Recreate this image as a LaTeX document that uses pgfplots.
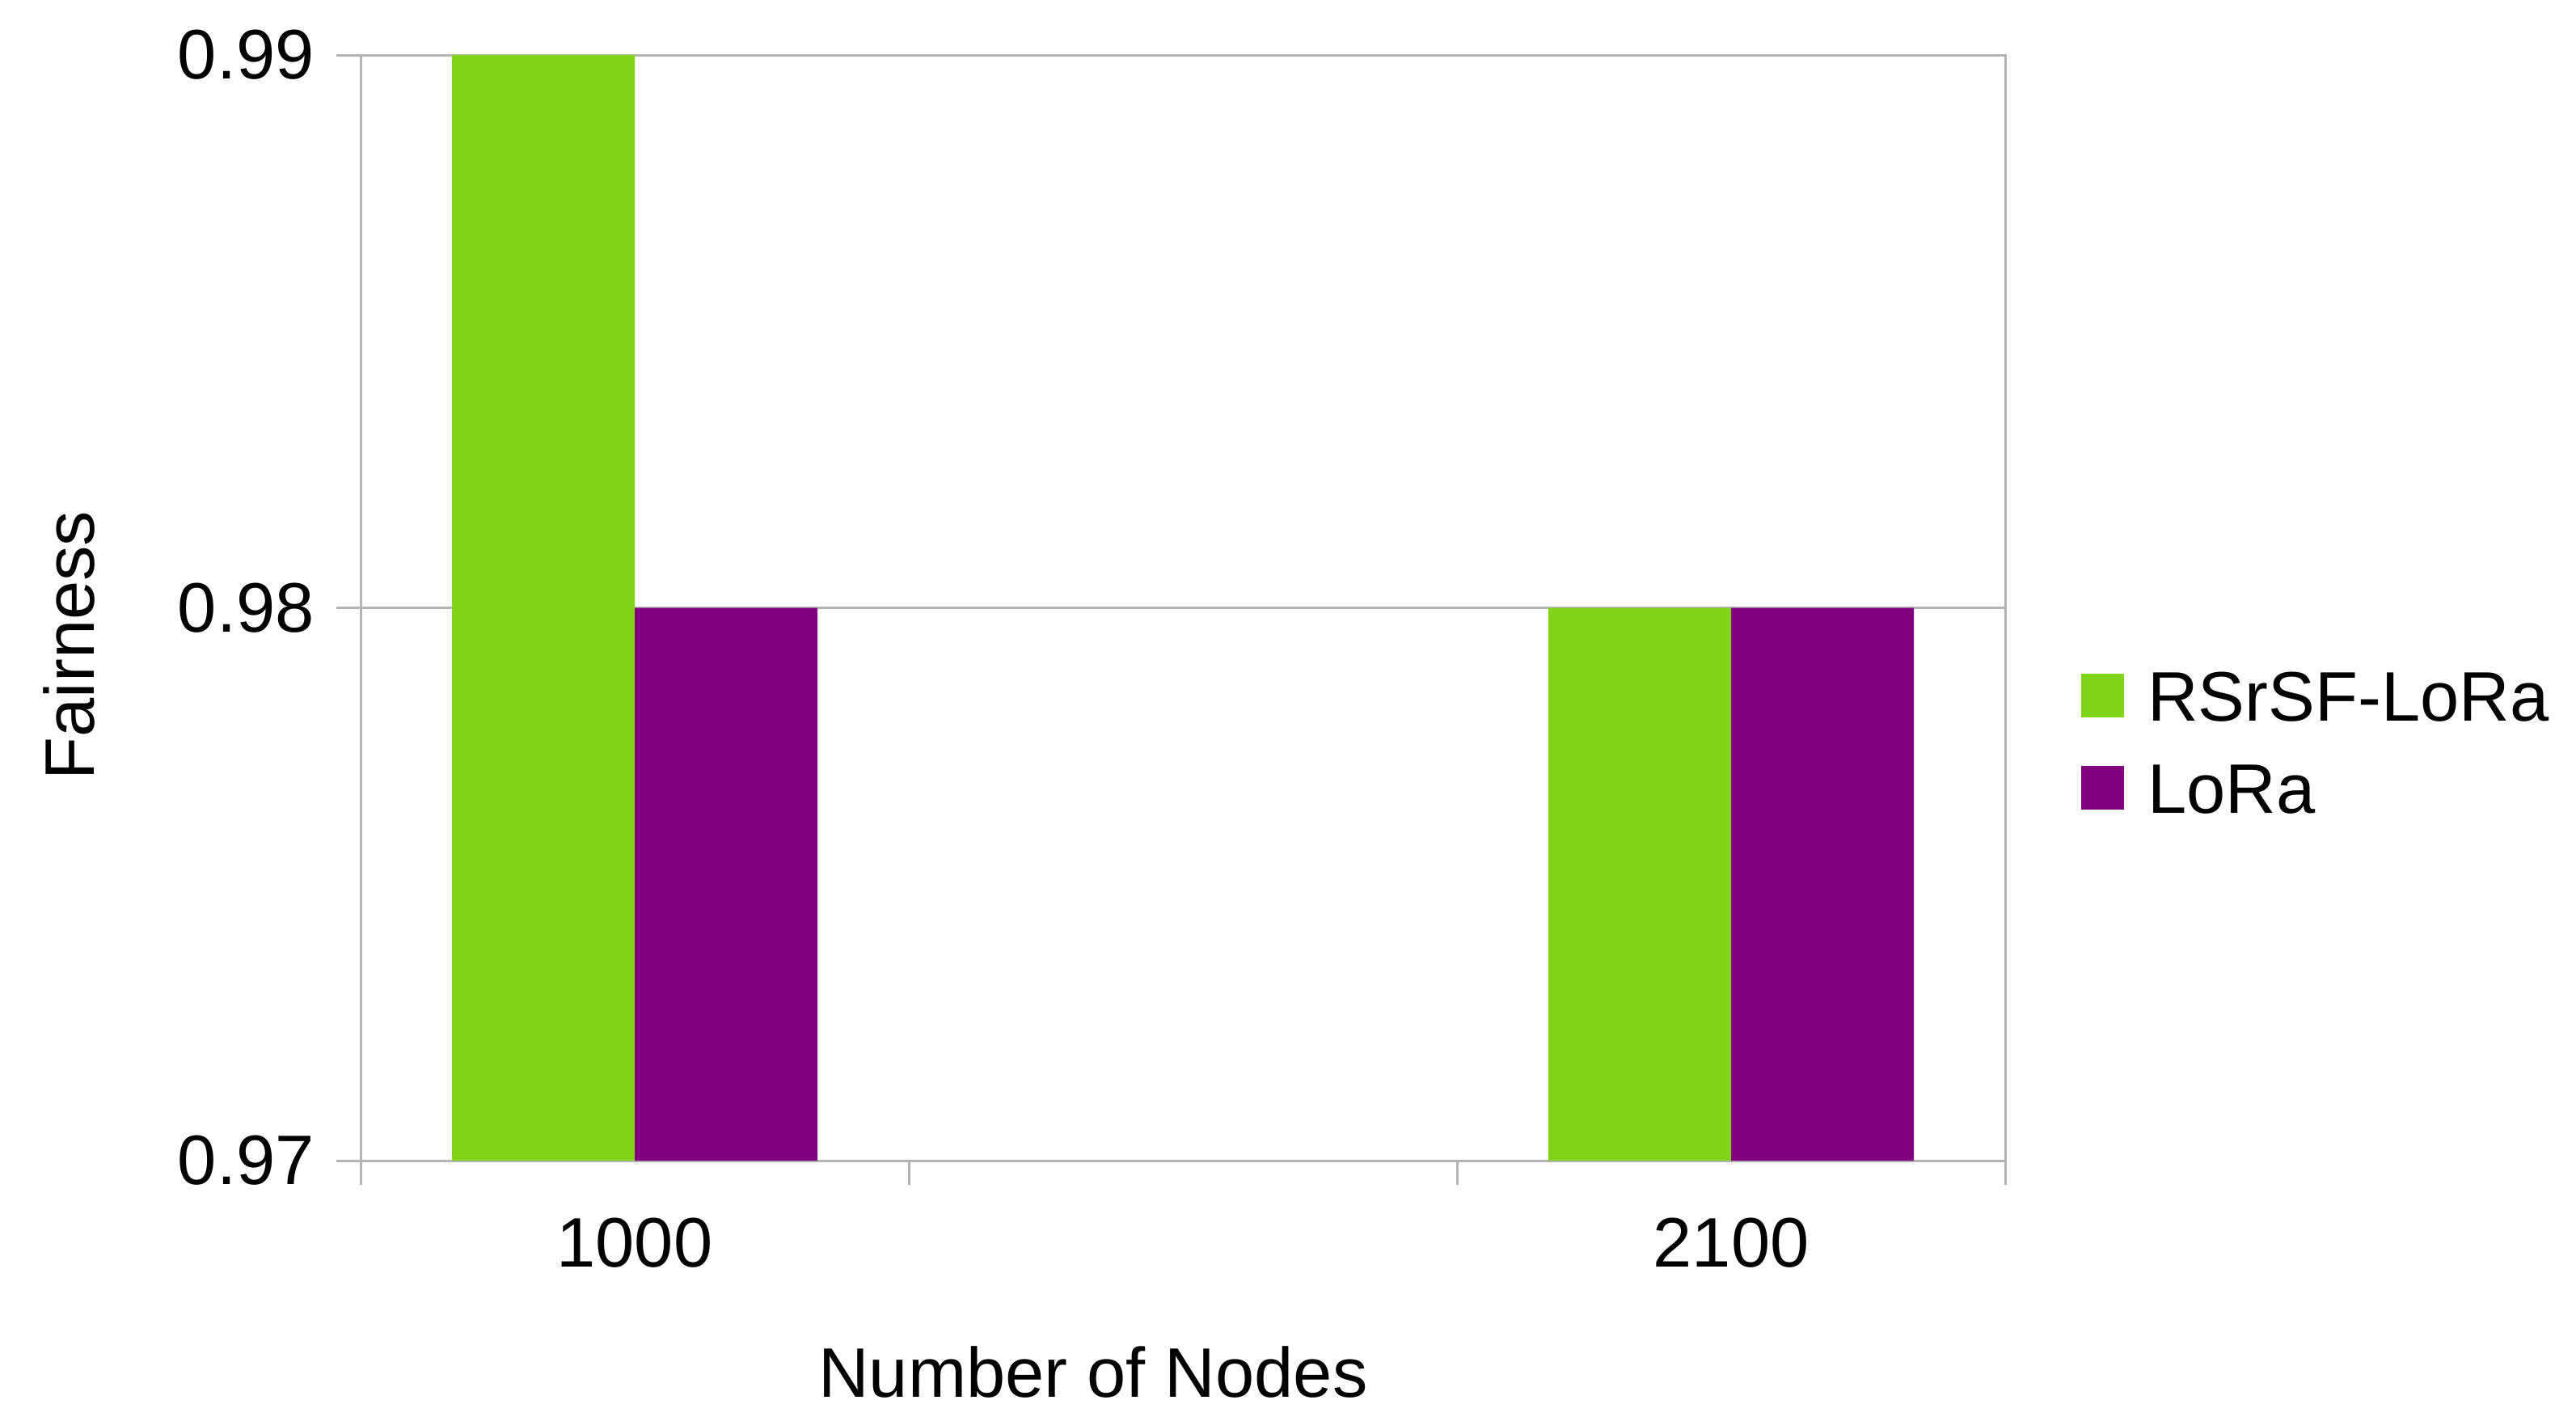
\documentclass[border=0pt]{standalone}
\usepackage{fontspec}
\setmainfont{Liberation Sans}
\usepackage{pgfplots}
\pgfplotsset{compat=1.18}
\definecolor{barGreen}{HTML}{81D41A}
\definecolor{barPurple}{HTML}{800080}
\definecolor{gridGray}{HTML}{B3B3B3}
\pgfplotsset{
  sqlegend/.style={legend image code/.code={\fill[##1] (0pt,0.6pt) rectangle (8pt,8.7pt); \path (12.35pt,0pt);}}
}
\begin{document}
\fontsize{13pt}{15.6pt}\selectfont
\begin{tikzpicture}
\useasboundingbox (0,0) rectangle (477.9pt,262.65pt);
\begin{axis}[
  at={(66.9pt,47.4pt)}, anchor=south west,
  scale only axis, width=305.1pt, height=205.05pt,
  xmin=-0.5, xmax=2.5, ymin=0.97, ymax=0.99,
  xtick={-0.5,0.5,1.5,2.5}, xticklabels={},
  extra x ticks={0,2}, extra x tick labels={1000,2100},
  extra x tick style={major tick length=0pt, grid=none},
  ytick={0.97,0.98,0.99}, yticklabels={0.97,0.98,0.99},
  ymajorgrids, grid style={gridGray, line width=0.45pt},
  axis line style={gridGray, line width=0.45pt},
  every tick/.style={gridGray, line width=0.45pt},
  tick align=outside, major tick length=4.5pt, tick pos=left,
  /pgf/number format/assume math mode=true,
  xticklabel style={inner sep=0pt, anchor=north, yshift=-10.5pt},
  yticklabel style={inner sep=0pt, anchor=east, xshift=-3.9pt},
  xlabel={Number of Nodes},
  xlabel style={at={(rel axis cs:0.4454,-0.2143)}, anchor=base, inner sep=0pt},
  ylabel={Fairness},
  ylabel style={at={(rel axis cs:-0.1618,0.466)}, anchor=base, inner sep=0pt},
  legend style={at={(rel axis cs:1.0462,0.4433)}, anchor=north west, draw=none, fill=none,
    inner sep=0pt, outer sep=0pt, row sep=7.8pt, column sep=0pt,
    nodes={inner sep=0pt, text height=9.3pt, text depth=0pt},
    cells={anchor=base west}},
]
\addplot[ybar, bar width=0.3333333, bar shift=-0.1666667, fill=barGreen, draw=none, sqlegend]
  coordinates {(0,0.99) (2,0.98)};
\addlegendentry{RSrSF-LoRa}
\addplot[ybar, bar width=0.3333333, bar shift=0.1666667, fill=barPurple, draw=none, sqlegend]
  coordinates {(0,0.98) (2,0.98)};
\addlegendentry{LoRa}
\end{axis}
\end{tikzpicture}
\end{document}
